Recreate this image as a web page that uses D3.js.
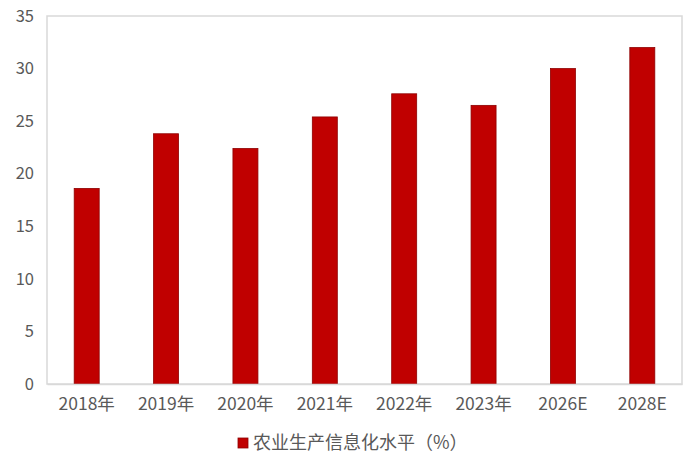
<!DOCTYPE html>
<html>
<head>
<meta charset="utf-8">
<script src="https://cdn.jsdelivr.net/npm/d3@7"></script>
<style>
  body { margin: 0; background: #fff; }
  svg { display: block; }
</style>
</head>
<body>
<svg id="chart" width="700" height="473"></svg>
<script>
const years = [`2018年`, `2019年`, `2020年`, `2021年`, `2022年`, `2023年`, `2026E`, `2028E`];
const levels = [18.6, 23.8, 22.4, 25.4, 27.6, 26.5, 30.0, 32.0];
const yTicks = [0, 5, 10, 15, 20, 25, 30, 35];
const seriesName = `农业生产信息化水平（%）`;

const fontFamily = `"Noto Sans CJK SC", "Noto Sans", sans-serif`;
const margin = {top: 16, right: 18, bottom: 89, left: 47};
const width = 700, height = 473;

const svg = d3.select(`#chart`);

const x = d3.scaleBand()
  .domain(years)
  .range([margin.left, width - margin.right])
  .paddingInner(0.685)
  .paddingOuter(0.3425);

const y = d3.scaleLinear()
  .domain([0, 35])
  .range([height - margin.bottom, margin.top]);

// plot area frame
svg.append(`rect`)
  .attr(`x`, margin.left)
  .attr(`y`, margin.top)
  .attr(`width`, width - margin.left - margin.right)
  .attr(`height`, height - margin.top - margin.bottom)
  .attr(`fill`, `none`)
  .attr(`stroke`, `#d9d9d9`)
  .attr(`stroke-width`, 1.5);

// bars
svg.append(`g`)
  .selectAll(`rect`)
  .data(levels)
  .enter().append(`rect`)
  .attr(`x`, (d, i) => x(years[i]))
  .attr(`y`, d => y(d))
  .attr(`width`, x.bandwidth())
  .attr(`height`, d => y(0) - y(d))
  .attr(`fill`, `#c00000`)
  .attr(`stroke`, `#8e0000`)
  .attr(`stroke-width`, 0.8);

// y axis
const yAxis = svg.append(`g`)
  .attr(`transform`, `translate(${margin.left},0)`)
  .call(d3.axisLeft(y).tickValues(yTicks).tickSize(0).tickPadding(13));
yAxis.attr(`font-family`, fontFamily);
yAxis.select(`.domain`).remove();
yAxis.selectAll(`text`)
  .attr(`font-size`, `16.5px`)
  .attr(`fill`, `#595959`);

// x axis
const xAxis = svg.append(`g`)
  .attr(`transform`, `translate(0,${y(0)})`)
  .call(d3.axisBottom(x).tickSize(0).tickPadding(14));
xAxis.attr(`font-family`, fontFamily);
xAxis.select(`.domain`).attr(`stroke`, `#d9d9d9`).attr(`stroke-width`, 1.5);
xAxis.selectAll(`text`)
  .attr(`font-size`, `17.5px`)
  .attr(`fill`, `#595959`);

// legend
const legend = svg.append(`g`)
  .attr(`transform`, `translate(238,438)`)
  .attr(`font-family`, fontFamily);

legend.append(`rect`)
  .attr(`width`, 10)
  .attr(`height`, 10)
  .attr(`fill`, `#c00000`)
  .attr(`stroke`, `#8e0000`)
  .attr(`stroke-width`, 0.8);

legend.append(`text`)
  .attr(`x`, 15)
  .attr(`y`, 5)
  .attr(`dy`, `.35em`)
  .attr(`font-size`, `18px`)
  .attr(`fill`, `#595959`)
  .text(seriesName);
</script>
</body>
</html>
